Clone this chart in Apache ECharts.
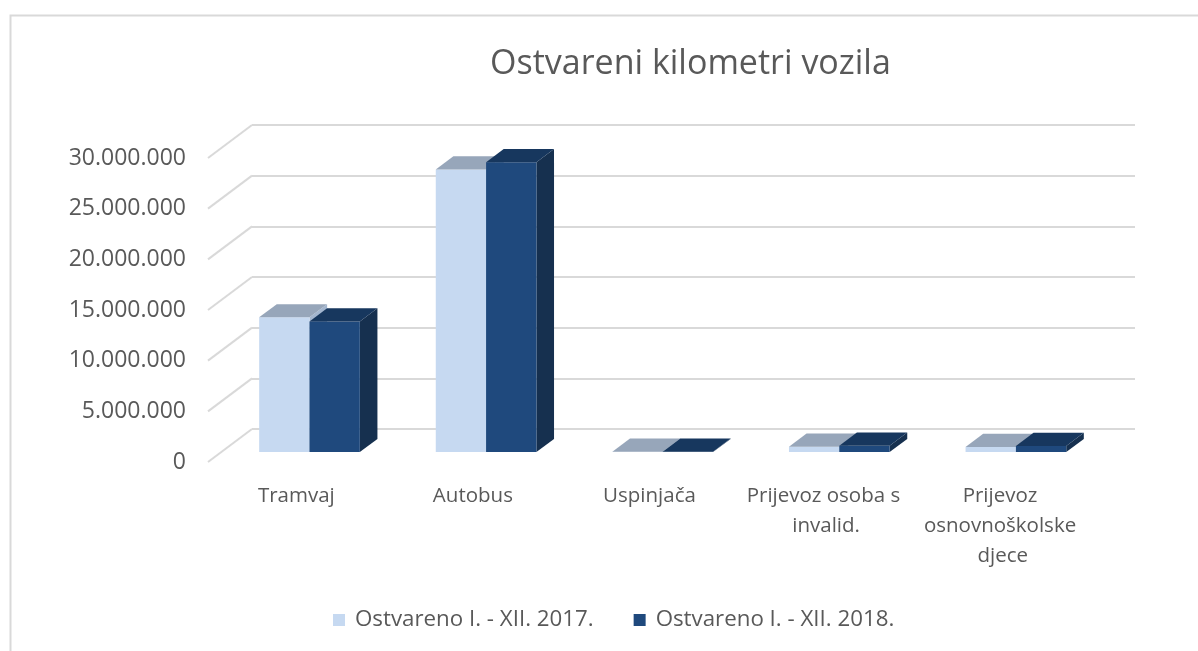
<!DOCTYPE html>
<html>
<head>
<meta charset="utf-8">
<script src="https://cdn.jsdelivr.net/npm/echarts@6/dist/echarts.min.js"></script>
<style>
  html, body { margin: 0; padding: 0; background: #fff; }
  #chart { width: 1198px; height: 651px; }
</style>
</head>
<body>
<div id="chart"></div>
<script>
// data
const categories = ['Tramvaj', 'Autobus', 'Uspinjača', 'Prijevoz osoba s invalid.', 'Prijevoz osnovnoškolske djece']
const seriesNames = ['Ostvareno I. - XII. 2017.', 'Ostvareno I. - XII. 2018.']
const values2017 = [13300000, 27900000, 30000, 530000, 500000]
const values2018 = [12900000, 28600000, 30000, 620000, 600000]
const yTicks = [0, 5000000, 10000000, 15000000, 20000000, 25000000, 30000000]

// fake 3d: offset from front plane to back wall
const DX = 44
const DY = -33
const GRID_COLOR = '#d9d9d9'
const TEXT_COLOR = '#595959'
const FONT = '"Open Sans", sans-serif'

const colors = [
  { front: '#c6d9f1', top: '#97a6ba', side: '#a3b6cf' },
  { front: '#1f497d', top: '#17375e', side: '#16304f' }
]

function fmt(v) {
  return String(v).replace(/\B(?=(\d{3})+(?!\d))/g, '.')
}

function barRenderer(idx) {
  const c = colors[idx]
  return function (params, api) {
    const cat = api.value(0)
    const val = api.value(1)
    const base = api.coord([cat, 0])
    const top = api.coord([cat, val])
    const band = api.size([1, 0])[0]
    const w = band * 0.285
    const x0 = idx === 0 ? base[0] - w : base[0]
    // bar sits in the middle of the depth
    const fx = x0 + DX * 0.3
    const fyb = base[1] + DY * 0.3
    const fyt = top[1] + DY * 0.3
    const dx = DX * 0.4
    const dy = DY * 0.4
    return {
      type: 'group',
      children: [
        {
          type: 'polygon',
          shape: { points: [[fx + w, fyt], [fx + w + dx, fyt + dy], [fx + w + dx, fyb + dy], [fx + w, fyb]] },
          style: { fill: c.side }
        },
        {
          type: 'rect',
          shape: { x: fx, y: fyt, width: w, height: fyb - fyt },
          style: { fill: c.front }
        },
        {
          type: 'polygon',
          shape: { points: [[fx, fyt], [fx + w, fyt], [fx + w + dx, fyt + dy], [fx + dx, fyt + dy]] },
          style: { fill: c.top }
        }
      ]
    }
  }
}

const chart = echarts.init(document.getElementById('chart'))

chart.setOption({
  animation: false,
  backgroundColor: '#fff',
  graphic: [{
    type: 'rect',
    left: 8,
    top: 13,
    shape: { width: 1400, height: 800 },
    style: { fill: 'none', stroke: GRID_COLOR, lineWidth: 2 },
    silent: true
  }],
  title: {
    text: 'Ostvareni kilometri vozila',
    left: 485,
    top: 42,
    textStyle: { color: TEXT_COLOR, fontFamily: FONT, fontSize: 34, fontWeight: 'normal' }
  },
  legend: {
    data: seriesNames,
    bottom: 15,
    left: 328,
    icon: 'rect',
    itemWidth: 12,
    itemHeight: 12,
    itemGap: 40,
    textStyle: { color: TEXT_COLOR, fontFamily: FONT, fontSize: 22.3, padding: [0, 0, 0, 5] }
  },
  grid: [
    // front plane: labels live here, bars are drawn from it
    { left: 208, right: 107, top: 158, bottom: 189 },
    // back wall: gridlines
    { left: 252, right: 63, top: 125, bottom: 222 }
  ],
  xAxis: [
    {
      type: 'category',
      gridIndex: 0,
      data: categories,
      axisLine: { show: false },
      axisTick: { show: false },
      axisLabel: {
        interval: 0,
        margin: 19,
        color: TEXT_COLOR,
        fontFamily: FONT,
        fontSize: 20.5,
        lineHeight: 30,
        width: 170,
        overflow: 'break'
      }
    },
    {
      type: 'category',
      gridIndex: 1,
      data: categories,
      show: false
    }
  ],
  yAxis: [
    {
      type: 'value',
      gridIndex: 0,
      min: 0,
      max: 30000000,
      interval: 5000000,
      axisLine: { show: false },
      axisTick: { show: false },
      splitLine: { show: false },
      axisLabel: {
        margin: 22,
        color: TEXT_COLOR,
        fontFamily: FONT,
        fontSize: 23,
        formatter: fmt
      }
    },
    {
      type: 'value',
      gridIndex: 1,
      min: 0,
      max: 30000000,
      interval: 5000000,
      axisLine: { show: false },
      axisTick: { show: false },
      axisLabel: { show: false },
      splitLine: { lineStyle: { color: GRID_COLOR, width: 2 } }
    }
  ],
  series: [
    {
      // side-wall lines joining the front axis to the back gridlines
      type: 'custom',
      xAxisIndex: 0,
      yAxisIndex: 0,
      silent: true,
      z: 1,
      data: yTicks.map(v => [0, v]),
      encode: { x: 0, y: 1 },
      renderItem: function (params, api) {
        const y = api.coord([0, api.value(1)])[1]
        const x = params.coordSys.x
        return {
          type: 'line',
          shape: { x1: x, y1: y, x2: x + DX, y2: y + DY },
          style: { stroke: GRID_COLOR, lineWidth: 2 }
        }
      }
    },
    {
      name: seriesNames[0],
      type: 'custom',
      xAxisIndex: 0,
      yAxisIndex: 0,
      z: 2,
      itemStyle: { color: colors[0].front },
      data: values2017.map((v, i) => [i, v]),
      encode: { x: 0, y: 1 },
      renderItem: barRenderer(0)
    },
    {
      name: seriesNames[1],
      type: 'custom',
      xAxisIndex: 0,
      yAxisIndex: 0,
      z: 3,
      itemStyle: { color: colors[1].front },
      data: values2018.map((v, i) => [i, v]),
      encode: { x: 0, y: 1 },
      renderItem: barRenderer(1)
    }
  ]
})
</script>
</body>
</html>
